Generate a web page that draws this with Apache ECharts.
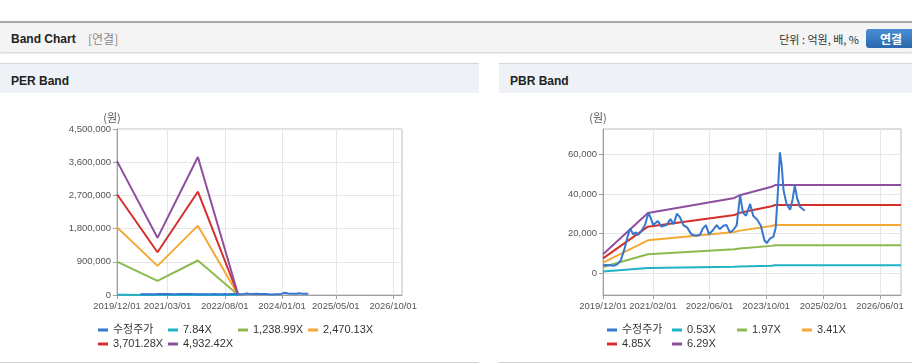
<!DOCTYPE html>
<html><head><meta charset="utf-8">
<script src="https://cdn.jsdelivr.net/npm/echarts@6/dist/echarts.min.js"></script>
<style>
html,body{margin:0;padding:0;background:#fff;width:912px;height:364px;overflow:hidden;font-family:'Liberation Sans','Noto Sans CJK KR',sans-serif;}
.abs{position:absolute;box-sizing:border-box;}
.t{position:absolute;white-space:nowrap;line-height:14px;}
</style></head>
<body>
<div class="abs" style="left:0;top:21px;width:912px;height:31px;background:#f4f4f4;border-top:2px solid #a8a8a8;box-shadow:0 1px 2px rgba(0,0,0,0.22);"></div>
<div class="t" style="left:11px;top:32px;font-size:12px;font-weight:bold;color:#222;">Band Chart</div>
<div class="t" style="left:88px;top:32px;font-size:12px;color:#888;font-family:'Noto Sans CJK KR',sans-serif;">[연결]</div>
<div class="t" style="right:53px;top:32px;font-size:11px;color:#333;font-family:'Noto Sans CJK KR',sans-serif;">단위 : 억원, 배, %</div>
<div class="abs" style="left:866px;top:29px;width:50px;height:19px;border-radius:3px;background:linear-gradient(#4b8dd3,#2a68ae);color:#fff;font-size:12px;font-weight:bold;text-align:center;line-height:19px;font-family:'Noto Sans CJK KR',sans-serif;">연결</div>

<div class="abs" style="left:0;top:63px;width:479px;height:30px;background:#eef2f7;border-top:1px solid #d3d7dd;"></div>
<div class="t" style="left:11px;top:74px;font-size:12px;font-weight:bold;color:#222;">PER Band</div>
<div class="abs" style="left:499px;top:63px;width:413px;height:30px;background:#eef2f7;border-top:1px solid #d3d7dd;"></div>
<div class="t" style="left:510px;top:74px;font-size:12px;font-weight:bold;color:#222;">PBR Band</div>
<div class="abs" style="left:0;top:362px;width:479px;height:1px;background:#d0d0d0;"></div>
<div class="abs" style="left:499px;top:362px;width:413px;height:1px;background:#d0d0d0;"></div>

<div id="chart" class="abs" style="left:0;top:0;width:912px;height:364px;"></div>
<script>
// ---------------- data ----------------
const perLegend = ['수정주가', '7.84X', '1,238.99X', '2,470.13X', '3,701.28X', '4,932.42X'];
const pbrLegend = ['수정주가', '0.53X', '1.97X', '3.41X', '4.85X', '6.29X'];

const perXTicks = ['2019/12/01', '2021/03/01', '2022/08/01', '2024/01/01', '2025/05/01', '2026/10/01'];
const pbrXTicks = ['2019/12/01', '2021/02/01', '2022/06/01', '2023/10/01', '2025/02/01', '2026/06/01'];
const perYTicks = [0, 900000, 1800000, 2700000, 3600000, 4500000];
const pbrYTicks = [0, 20000, 40000, 60000];

const perBandDates = ['2019-12-01', '2020-12-01', '2021-12-01', '2022-12-01'];
const perBand1 = [5760, 2470, 5950, 0];
const perBand2 = [905000, 385000, 935000, 0];
const perBand3 = [1835000, 790000, 1880000, 0];
const perBand4 = [2730000, 1160000, 2800000, 0];
const perBand5 = [3630000, 1550000, 3740000, 0];

const pbrBandDates = ['2019-12-01', '2020-12-20', '2023-01-01', '2023-02-15', '2023-11-15', '2023-12-15', '2026-11-28'];
const pbrBand1 = [900, 2650, 3300, 3450, 3800, 4000, 4000];
const pbrBand2 = [3100, 9600, 12100, 12500, 13800, 14100, 14100];
const pbrBand3 = [5300, 16600, 20800, 21500, 23800, 24300, 24300];
const pbrBand4 = [7500, 23500, 29400, 30500, 33800, 34400, 34400];
const pbrBand5 = [9600, 30400, 38000, 39400, 43600, 44500, 44500];

const priceDates = ['2019-12-01','2020-01-01','2020-02-01','2020-03-01','2020-04-01','2020-05-01','2020-06-01','2020-07-01','2020-07-22','2020-08-15',
  '2020-09-07','2020-09-28','2020-10-25','2020-11-25','2020-12-25','2021-01-12','2021-02-03','2021-03-15','2021-04-15','2021-05-28',
  '2021-07-01','2021-07-28','2021-08-25','2021-09-20','2021-10-20','2021-11-22','2021-12-28','2022-02-05','2022-03-10','2022-04-05',
  '2022-05-01','2022-05-28','2022-07-01','2022-08-01','2022-08-28','2022-09-28','2022-10-25','2022-11-22','2022-12-22','2023-01-20',
  '2023-02-18','2023-03-15','2023-04-10','2023-05-15','2023-06-10','2023-07-15','2023-08-15','2023-09-15','2023-10-05','2023-11-01',
  '2023-12-01','2023-12-20','2024-01-05','2024-01-25','2024-02-10','2024-02-25','2024-03-22','2024-04-22','2024-05-12','2024-06-01',
  '2024-06-20','2024-07-15','2024-08-25'];
const priceValues = [4000,4200,4000,3700,4500,6500,12000,19000,22600,19600,
  20600,19300,21300,24300,30500,28000,24300,26300,23500,24300,
  27300,24700,30000,28300,24300,23000,19600,18900,19300,22600,
  24300,19600,21800,24300,22300,24000,24300,20600,21800,24300,
  39400,30500,29000,35000,29000,27000,24000,16500,15200,17500,
  18500,23000,38000,61000,54000,42000,35000,32000,37000,44300,
  38000,33500,31500];
const perPriceStart = '2020-07-01';

const colors = ['#3677cf', '#1fb1c4', '#8cba4e', '#f4a935', '#d42f2a', '#8f4f9f'];

// ---------------- chart ----------------
// dates -> UTC day timestamps, drawn on value axes
const P = s => Date.UTC(+s.slice(0, 4), +s.slice(5, 7) - 1, +s.slice(8, 10));
const pad2 = n => (n < 10 ? '0' : '') + n;
const fmtDate = v => { const d = new Date(v); return d.getUTCFullYear() + '/' + pad2(d.getUTCMonth() + 1) + '/' + pad2(d.getUTCDate()); };
const fmtNum = v => Math.round(v).toLocaleString('en-US');
const labelFont = "'Liberation Sans',sans-serif";

function mkSeries(name, dates, vals, ci, ai, z) {
  return {
    name: name, type: 'line', xAxisIndex: ai, yAxisIndex: ai,
    data: dates.map((d, i) => [P(d), vals[i]]),
    showSymbol: false, symbol: 'none', z: z,
    lineStyle: { width: 2, color: colors[ci] }, itemStyle: { color: colors[ci] },
    emphasis: { disabled: true }, animation: false
  };
}

function mkX(gi, min, max, ticks) {
  const cv = ticks.map(P);
  return {
    type: 'value', gridIndex: gi, min: P(min), max: P(max), scale: true,
    axisLine: { show: true, onZero: false, lineStyle: { color: '#a0a0a0', width: 1 } },
    axisTick: { show: true, length: 4, customValues: cv, lineStyle: { color: '#a0a0a0' } },
    axisLabel: { customValues: cv, formatter: v => fmtDate(v), fontSize: 9.5, color: '#555', margin: 6, fontFamily: labelFont, hideOverlap: false, showMinLabel: true, showMaxLabel: true },
    splitLine: { show: true, lineStyle: { color: '#e6e6e6', width: 1 } }
  };
}
function mkY(gi, min, max, ticks) {
  return {
    type: 'value', gridIndex: gi, min: min, max: max,
    name: '(원)', nameLocation: 'end', nameGap: 6,
    nameTextStyle: { fontSize: 11, color: '#555', padding: [0, 10, 0, 0], fontFamily: "'Noto Sans CJK KR',sans-serif" },
    axisLine: { show: true, onZero: false, lineStyle: { color: '#a0a0a0', width: 1 } },
    axisTick: { show: true, length: 4, customValues: ticks, lineStyle: { color: '#a0a0a0' } },
    axisLabel: { customValues: ticks, formatter: v => fmtNum(v), fontSize: 9.5, color: '#555', margin: 6, fontFamily: labelFont, hideOverlap: false },
    splitLine: { show: true, lineStyle: { color: '#e6e6e6', width: 1 } }
  };
}

const perPrice = priceDates.map((d, i) => [d, priceValues[i]]).filter(p => P(p[0]) >= P(perPriceStart));

const series = [
  mkSeries(perLegend[1], perBandDates, perBand1, 1, 0, 2),
  mkSeries(perLegend[2], perBandDates, perBand2, 2, 0, 2),
  mkSeries(perLegend[3], perBandDates, perBand3, 3, 0, 2),
  mkSeries(perLegend[4], perBandDates, perBand4, 4, 0, 2),
  mkSeries(perLegend[5], perBandDates, perBand5, 5, 0, 2),
  mkSeries(perLegend[0], perPrice.map(p => p[0]), perPrice.map(p => p[1]), 0, 0, 3),
  mkSeries(pbrLegend[1], pbrBandDates, pbrBand1, 1, 1, 2),
  mkSeries(pbrLegend[2], pbrBandDates, pbrBand2, 2, 1, 2),
  mkSeries(pbrLegend[3], pbrBandDates, pbrBand3, 3, 1, 2),
  mkSeries(pbrLegend[4], pbrBandDates, pbrBand4, 4, 1, 2),
  mkSeries(pbrLegend[5], pbrBandDates, pbrBand5, 5, 1, 2),
  mkSeries(pbrLegend[0], priceDates, priceValues, 0, 1, 3)
];

function mkLegend(left, width, tw, names) {
  return {
    left: left, top: 324, width: width, orient: 'horizontal', padding: 0,
    itemWidth: 10, itemHeight: 3, itemGap: 2, icon: 'rect', selectedMode: false,
    data: names,
    textStyle: { fontSize: 11, color: '#333', width: tw, lineHeight: 12, fontFamily: "'Liberation Sans','Noto Sans CJK KR',sans-serif" }
  };
}

const chart = echarts.init(document.getElementById('chart'), null, { renderer: 'canvas', width: 912, height: 364 });
chart.setOption({
  animation: false,
  backgroundColor: 'transparent',
  grid: [
    { left: 117, top: 129, width: 285, height: 166, show: true, borderColor: '#bdbdbd', borderWidth: 1, backgroundColor: 'transparent' },
    { left: 603, top: 129, width: 298, height: 166, show: true, borderColor: '#bdbdbd', borderWidth: 1, backgroundColor: 'transparent' }
  ],
  xAxis: [
    mkX(0, '2019-12-01', '2026-12-20', perXTicks),
    mkX(1, '2019-12-01', '2026-11-28', pbrXTicks)
  ],
  yAxis: [
    mkY(0, 0, 4500000, perYTicks),
    mkY(1, -11000, 72800, pbrYTicks)
  ],
  legend: [
    mkLegend(98, 282, 53, perLegend),
    mkLegend(607, 265, 48, pbrLegend)
  ],
  series: series
});
</script>
</body></html>
